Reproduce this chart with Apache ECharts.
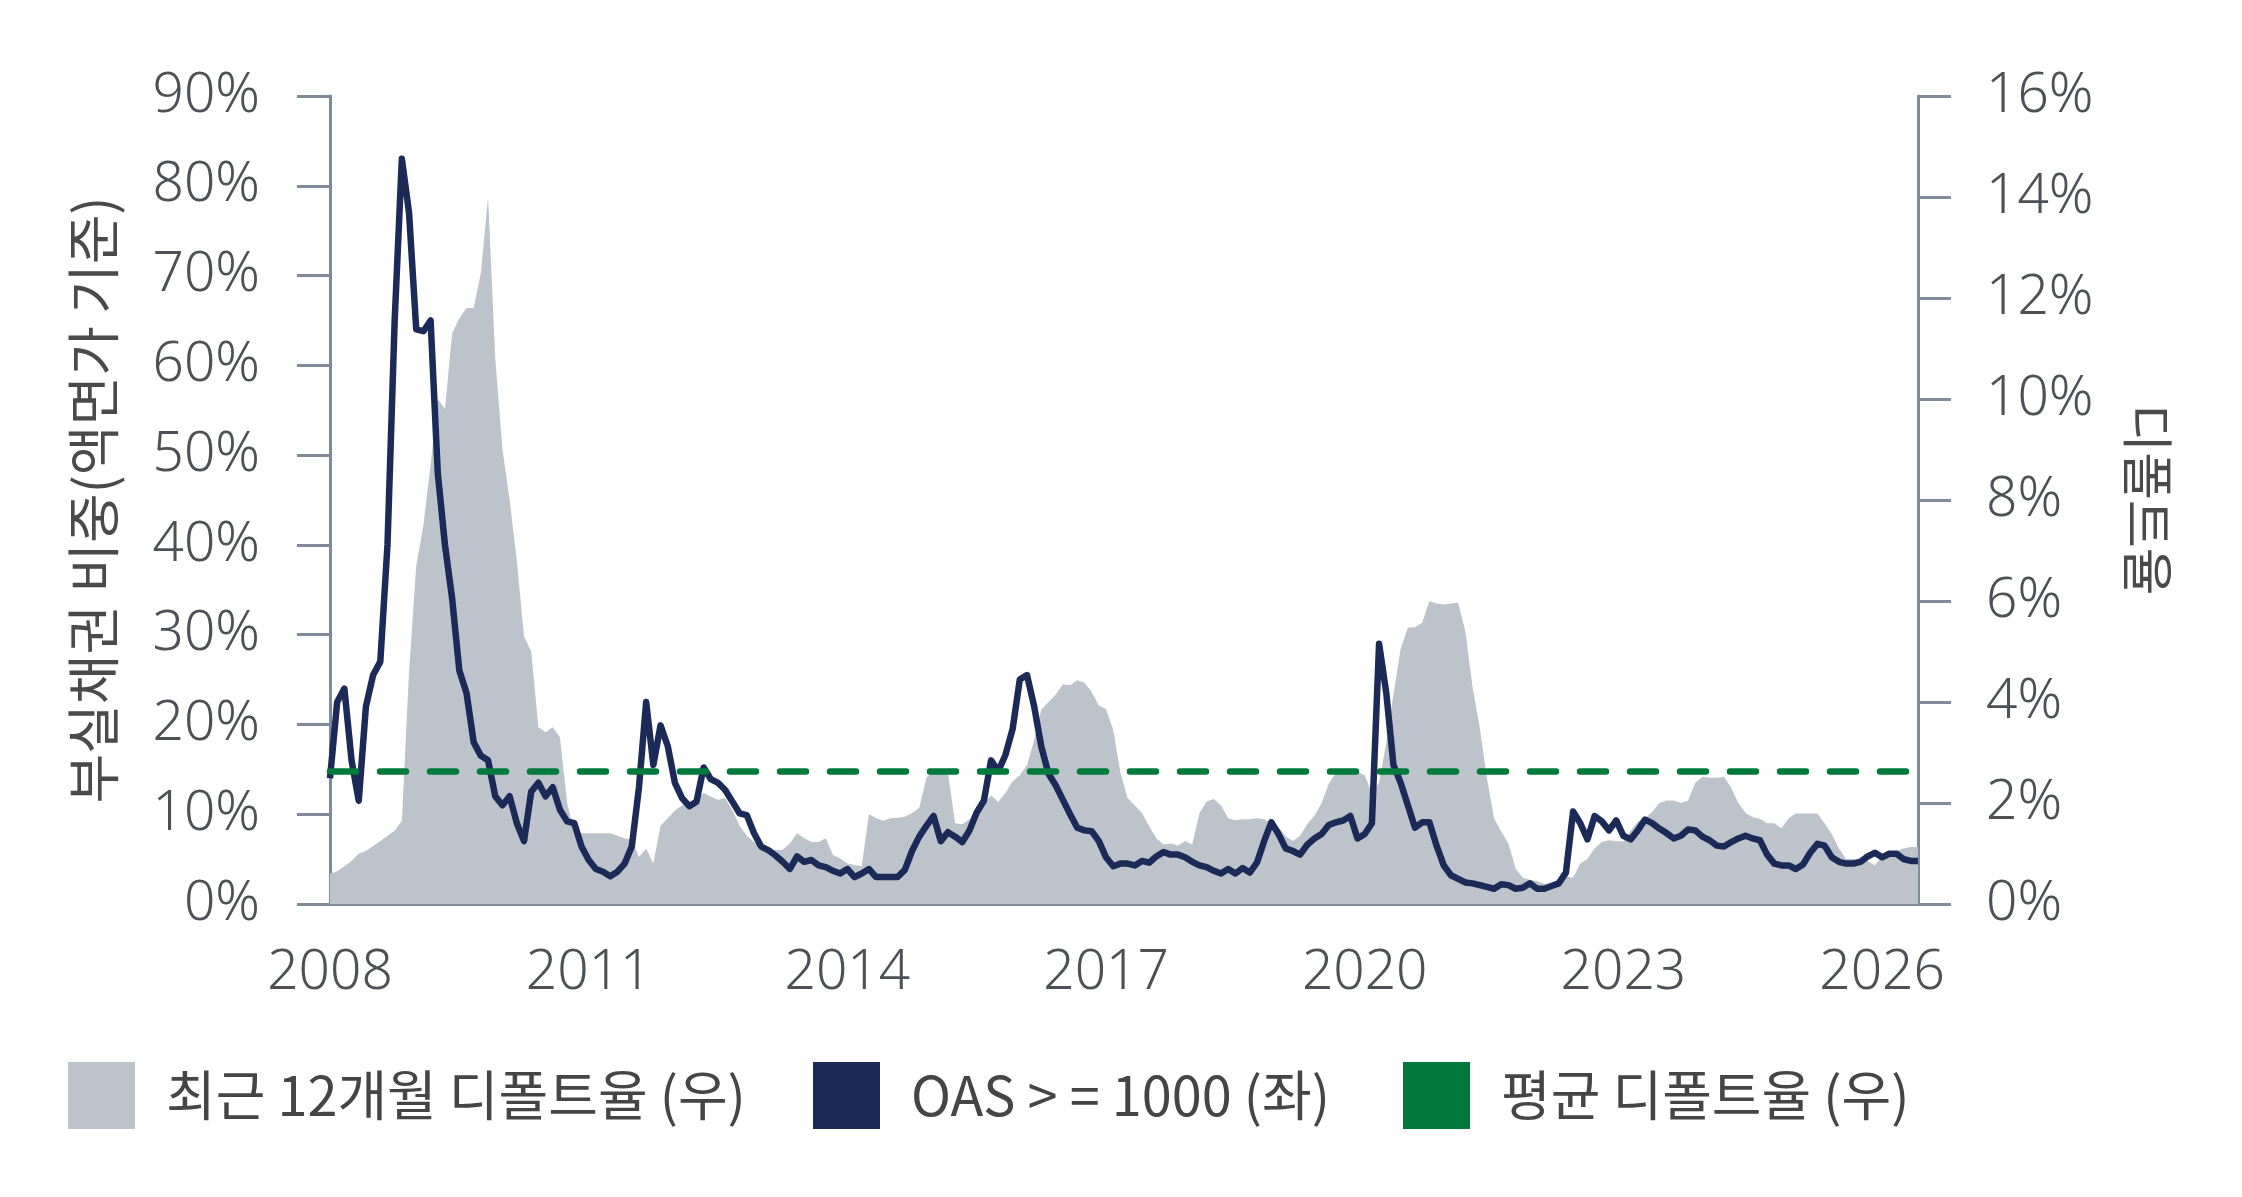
<!DOCTYPE html>
<html>
<head>
<meta charset="utf-8">
<title>부실채권 비중과 디폴트율</title>
<script src="https://cdn.jsdelivr.net/npm/echarts@6.0.0/dist/echarts.min.js"></script>
<style>
    html,body{margin:0;padding:0;background:#fff;}
    #chart1{width:2242px;height:1197px;}
</style>
</head>
<body>
<div id="chart1"></div>
<script>
// 월별 데이터 (2008-01 부터)
var startYear = 2008;
var yearTicks = ["2008","2011","2014","2017","2020","2023","2026"];
var leftTicks = [0,10,20,30,40,50,60,70,80,90];
var rightTicks = [0,2,4,6,8,10,12,14,16];

// OAS >= 1000 비중 (좌, %)
var oasShare = [
    14,22.5,24,16,11.5,22,25.5,27,40,65,
    83,77,64,63.8,65,48,40,34,26,23.5,
    18,16.5,16,12,11,12,9,7,12.5,13.5,
    12,13,10.5,9.2,9.0,6.4,4.9,3.9,3.6,3.1,
    3.6,4.5,6.4,13,22.5,15.5,19.9,17.6,13.5,11.8,
    10.9,11.4,15.2,13.9,13.5,12.7,11.4,10.1,9.9,7.9,
    6.4,6.0,5.4,4.7,3.9,5.3,4.7,4.9,4.3,4.1,
    3.7,3.4,3.9,3.0,3.4,3.9,3.0,3.0,3.0,3.0,
    3.8,5.9,7.5,8.7,9.8,7.0,8.0,7.5,6.9,8.2,
    10.2,11.5,16.0,14.8,16.6,19.5,25.0,25.5,22,17.5,
    14.5,13.2,11.6,10.0,8.5,8.2,8.1,7.0,5.2,4.2,
    4.5,4.5,4.3,4.8,4.6,5.3,5.8,5.5,5.5,5.2,
    4.7,4.3,4.1,3.7,3.4,3.9,3.4,4.0,3.5,4.6,
    7.0,9.1,7.8,6.2,5.9,5.5,6.6,7.3,7.8,8.8,
    9.1,9.3,9.8,7.3,7.8,9.0,29.0,23.5,15.5,13.5,
    11.0,8.5,9.1,9.1,6.5,4.3,3.2,2.8,2.4,2.3,
    2.1,1.9,1.7,2.2,2.1,1.7,1.8,2.3,1.7,1.7,
    2.0,2.3,3.5,10.3,9.0,7.2,9.8,9.2,8.2,9.3,
    7.6,7.2,8.2,9.4,9.0,8.4,7.9,7.3,7.6,8.3,
    8.2,7.5,7.1,6.5,6.4,6.9,7.3,7.6,7.3,7.1,
    5.5,4.5,4.3,4.3,3.9,4.4,5.7,6.7,6.5,5.2,
    4.7,4.5,4.5,4.7,5.3,5.7,5.2,5.6,5.6,5.0,
    4.8,4.8
];

// 최근 12개월 디폴트율 (우, %)
var defaultRate = [
    0.6,0.65,0.75,0.85,1.0,1.05,1.15,1.25,1.35,1.45,
    1.65,4.6,6.7,7.5,8.7,10.0,9.8,11.3,11.6,11.8,
    11.8,12.5,14.0,10.8,9.0,8.0,6.8,5.3,5.0,3.5,
    3.4,3.5,3.3,2.0,1.4,1.4,1.4,1.4,1.4,1.4,
    1.35,1.3,1.27,0.93,1.1,0.8,1.55,1.7,1.85,1.95,
    2.0,2.1,2.2,2.13,2.06,2.1,1.85,1.55,1.35,1.23,
    1.13,1.1,1.07,1.07,1.2,1.4,1.3,1.23,1.23,1.3,
    0.97,0.9,0.8,0.77,0.75,1.78,1.7,1.65,1.7,1.71,
    1.73,1.8,1.9,2.5,2.65,2.65,2.6,1.6,1.58,1.68,
    1.85,2.0,2.15,2.02,2.2,2.43,2.55,2.75,3.25,3.85,
    4.0,4.15,4.35,4.33,4.43,4.38,4.2,3.93,3.86,3.45,
    2.6,2.1,1.95,1.8,1.54,1.3,1.18,1.2,1.16,1.25,
    1.18,1.8,2.03,2.08,1.95,1.7,1.66,1.68,1.68,1.7,
    1.68,1.6,1.52,1.34,1.25,1.35,1.58,1.75,2.0,2.38,
    2.6,2.6,2.63,2.62,2.55,2.2,2.4,3.2,4.15,5.05,
    5.47,5.48,5.57,6.0,5.95,5.93,5.95,5.97,5.4,4.3,
    3.5,2.5,1.7,1.43,1.2,0.7,0.52,0.48,0.45,0.4,
    0.4,0.45,0.55,0.52,0.8,0.89,1.1,1.23,1.26,1.25,
    1.24,1.45,1.63,1.7,1.82,2.0,2.05,2.05,2.0,2.05,
    2.4,2.52,2.5,2.5,2.52,2.3,2.0,1.8,1.72,1.69,
    1.6,1.6,1.5,1.7,1.79,1.79,1.79,1.79,1.6,1.38,
    1.1,0.89,0.89,0.89,0.85,0.76,0.95,1.0,1.05,1.1,
    1.13,1.13
];

// 평균 디폴트율 (우, %)
var avgDefaultRate = 2.63;

var months = [];
for(var i=0;i<oasShare.length;i++){
    var y = startYear+Math.floor(i/12);
    var m = i%12+1;
    months.push(y+"-"+(m<10?"0"+m:m));
}

var FONT = "'Noto Sans','Noto Sans CJK KR',sans-serif";
var KFONT = "'Noto Sans CJK KR','Noto Sans',sans-serif";
var axisColor = "#7f8b98";
var labelColor = "#4d5156";

function initChart1(){
    var _chart1 = echarts.init(document.getElementById('chart1'));
    var legendBase = {
        orient:'horizontal',
        top:1057,
        itemWidth:67,
        itemHeight:67,
        icon:'rect',
        selectedMode:false,
        textStyle:{fontFamily:KFONT,fontSize:54,color:'#454545',padding:[0,0,0,26]}
    };
    var option = {
        animation:false,
        backgroundColor:'#fff',
        grid:{left:330,right:324,top:96,bottom:293,containLabel:false},
        legend:[
            echarts.util.merge({left:63,data:['최근 12개월 디폴트율 (우)']},legendBase),
            echarts.util.merge({left:808,data:['OAS > = 1000 (좌)']},legendBase),
            echarts.util.merge({left:1398,data:['평균 디폴트율 (우)']},legendBase)
        ],
        xAxis:{
            type:'category',
            data:months,
            boundaryGap:false,
            axisLine:{show:true,lineStyle:{color:axisColor,width:3}},
            axisTick:{show:false},
            splitLine:{show:false},
            axisLabel:{
                margin:42,
                fontFamily:FONT,fontSize:55,fontWeight:300,color:labelColor,
                interval:function(idx){return idx%36===0;},
                formatter:function(val){
                    var yr = val.split("-")[0];
                    return yearTicks.indexOf(yr)>=0 ? yr : "";
                }
            }
        },
        yAxis:[
            {
                type:'value',min:leftTicks[0],max:leftTicks[leftTicks.length-1],interval:10,
                name:'부실채권 비중(액면가 기준)',
                nameLocation:'middle',nameRotate:90,nameGap:210,
                nameTextStyle:{fontFamily:KFONT,fontSize:54,color:'#4a4a4a'},
                axisLine:{show:true,lineStyle:{color:axisColor,width:3}},
                axisTick:{show:true,length:33,lineStyle:{color:axisColor,width:3}},
                splitLine:{show:false},
                axisLabel:{margin:70,fontFamily:FONT,fontSize:55,fontWeight:300,color:labelColor,formatter:'{value}%'}
            },
            {
                type:'value',min:rightTicks[0],max:rightTicks[rightTicks.length-1],interval:2,
                position:'right',
                name:'디폴트율',
                nameLocation:'middle',nameRotate:-90,nameGap:204,
                nameTextStyle:{fontFamily:KFONT,fontSize:52,color:'#4a4a4a'},
                axisLine:{show:true,lineStyle:{color:axisColor,width:3}},
                axisTick:{show:true,length:33,lineStyle:{color:axisColor,width:3}},
                splitLine:{show:false},
                axisLabel:{margin:68,fontFamily:FONT,fontSize:55,fontWeight:300,color:labelColor,formatter:'{value}%'}
            }
        ],
        series:[
            {
                name:'최근 12개월 디폴트율 (우)',
                type:'line',
                yAxisIndex:1,
                data:defaultRate,
                symbol:'none',
                itemStyle:{color:'#bcc3ca'},
                lineStyle:{width:0,color:'#bcc3ca'},
                areaStyle:{color:'#bcc3ca',opacity:1},
                z:1
            },
            {
                name:'평균 디폴트율 (우)',
                type:'line',
                yAxisIndex:1,
                data:[],
                symbol:'none',
                itemStyle:{color:'#007a3a'},
                lineStyle:{color:'#007a3a'},
                markLine:{
                    silent:true,
                    symbol:['none','none'],
                    label:{show:false},
                    lineStyle:{color:'#007a3a',width:6.5,type:[26,24],cap:'round'},
                    data:[{yAxis:avgDefaultRate}]
                },
                z:2
            },
            {
                name:'OAS > = 1000 (좌)',
                type:'line',
                yAxisIndex:0,
                data:oasShare,
                symbol:'none',
                itemStyle:{color:'#1b2a56'},
                lineStyle:{color:'#1b2a56',width:6.5,join:'round'},
                z:3
            }
        ]
    };
    _chart1.setOption(option);
}
initChart1();
</script>
</body>
</html>
